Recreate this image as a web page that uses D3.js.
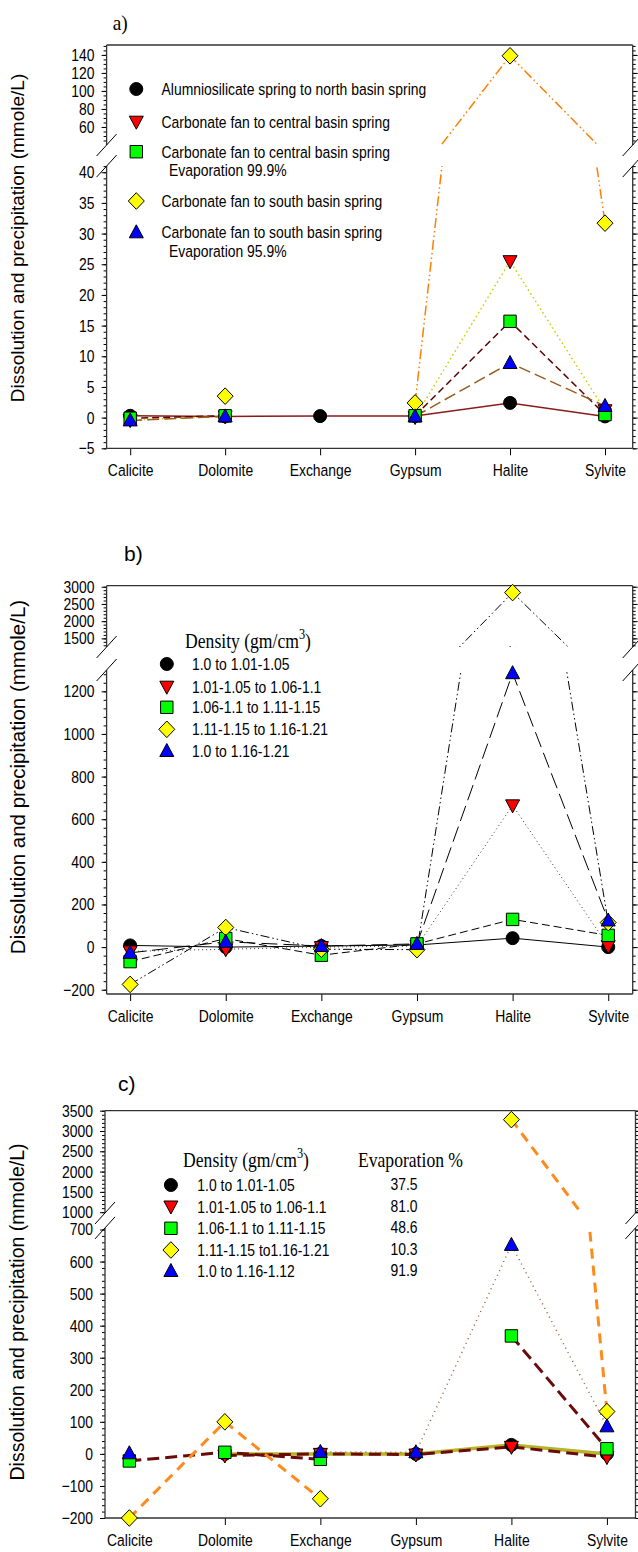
<!DOCTYPE html>
<html>
<head>
<meta charset="utf-8">
<script src="https://cdn.jsdelivr.net/npm/d3@7"></script>
<style>
  html, body { margin: 0; padding: 0; background: #fff; }
  svg { display: block; }
</style>
</head>
<body>
<svg id="chart" width="638" height="1552"></svg>
<script>
// ---- data ----
const categories = ["Calicite", "Dolomite", "Exchange", "Gypsum", "Halite", "Sylvite"];
const markerKinds = ["circle", "down", "square", "diamond", "up"];

// panel a
const aNames = [
  "Alumniosilicate spring to north basin spring",
  "Carbonate fan to central basin spring",
  "Carbonate fan to central basin spring",
  "Carbonate fan to south basin spring",
  "Carbonate fan to south basin spring"
];
const aSubNames = [null, null, "Evaporation 99.9%", null, "Evaporation 95.9%"];
const aCircle  = [0.3, 0.2, 0.25, 0.25, 2.4, 0.2];
const aDown    = [-0.4, 0.2, null, 0.1, 25.5, 1.2];
const aSquare  = [-0.1, 0.3, null, 0.3, 15.7, 0.5];
const aDiamond = [null, 3.5, null, 2.4, 139, 31.7];
const aUp      = [-0.45, 0.2, null, 0.2, 8.9, 1.9];
const aUpperTicks = [60, 80, 100, 120, 140];
const aLowerTicks = [-5, 0, 5, 10, 15, 20, 25, 30, 35, 40];

// panel b
const bNames = ["1.0 to 1.01-1.05", "1.01-1.05 to 1.06-1.1", "1.06-1.1 to 1.11-1.15",
                "1.11-1.15 to 1.16-1.21", "1.0 to 1.16-1.21"];
const bCircle  = [8, 0, 5, 10, 42, 0];
const bDown    = [-20, -10, 0, 5, 665, 5];
const bSquare  = [-68, 40, -38, 15, 130, 55];
const bDiamond = [-175, 92, -10, -12, 2830, 115];
const bUp      = [-27, 25, 5, 15, 1285, 125];
const bUpperTicks = [1500, 2000, 2500, 3000];
const bLowerTicks = [-200, 0, 200, 400, 600, 800, 1000, 1200];

// panel c
const cNames = ["1.0 to 1.01-1.05", "1.01-1.05 to 1.06-1.1", "1.06-1.1 to 1.11-1.15",
                "1.11-1.15 to1.16-1.21", "1.0 to 1.16-1.12"];
const cEvaporation = ["37.5", "81.0", "48.6", "10.3", "91.9"];
const cCircle  = [null, 0, 0, 0, 28, 0];
const cDown    = [null, -5, 0, -2, 22, -10];
const cSquare  = [-22, 5, -17, null, 368, 16];
const cDiamond = [-200, 100, -140, null, 3280, 132];
const cUp      = [2, null, 6, 5, 652, 86];
const cUpperTicks = [1000, 1500, 2000, 2500, 3000, 3500];
const cLowerTicks = [-200, -100, 0, 100, 200, 300, 400, 500, 600, 700];

// ---- fonts ----
const probe = document.createElement('canvas').getContext('2d');
function probeWidth(font) { probe.font = font; return probe.measureText('Calicite Dolomite Exchange').width; }
const narrowOK = Math.abs(probeWidth('16px "Liberation Sans Narrow", monospace') - probeWidth('16px monospace')) > 0.5;
const NARROW = narrowOK ? '"Liberation Sans Narrow", "Arial Narrow", sans-serif' : '"Liberation Sans", Arial, sans-serif';
const SX = narrowOK ? 1 : 0.82;
const SANS = '"Liberation Sans", Arial, sans-serif';
const SERIF = '"Liberation Serif", "Times New Roman", serif';
const fmt = d3.format('d');

const svg = d3.select('#chart');
const defs = svg.append('defs');

function narrowText(g, x, y, str, size, anchor) {
  return g.append('text')
    .attr('transform', `translate(${x},${y}) scale(${SX},1)`)
    .attr('font-family', NARROW)
    .attr('font-size', size)
    .attr('text-anchor', anchor || 'start')
    .attr('fill', '#000')
    .text(str);
}
function serifText(g, x, y, size) {
  return g.append('text')
    .attr('transform', `translate(${x},${y}) scale(0.88,1)`)
    .attr('font-family', SERIF)
    .attr('font-size', size)
    .attr('fill', '#000');
}

// ---- markers ----
const fills = { circle: '#000', down: '#ff0000', square: '#00ff00', diamond: '#ffff00', up: '#0000ff' };
const shapeTypes = {
  circle: { draw(c) { c.moveTo(6.5, 0); c.arc(0, 0, 6.5, 0, 2 * Math.PI); } },
  square: { draw(c) { c.rect(-6.2, -6.2, 12.4, 12.4); } },
  diamond: { draw(c) { c.moveTo(0, -8.3); c.lineTo(8, 0); c.lineTo(0, 8.3); c.lineTo(-8, 0); c.closePath(); } },
  up: { draw(c) { c.moveTo(0, -7.5); c.lineTo(7, 5.5); c.lineTo(-7, 5.5); c.closePath(); } },
  down: { draw(c) { c.moveTo(0, 7.5); c.lineTo(7, -5.5); c.lineTo(-7, -5.5); c.closePath(); } }
};
function marker(g, kind, cx, cy) {
  g.append('path')
    .attr('d', d3.symbol().type(shapeTypes[kind])())
    .attr('transform', `translate(${cx},${cy})`)
    .attr('fill', fills[kind])
    .attr('stroke', '#000')
    .attr('stroke-width', 1);
}

// ---- panel drawing ----
function drawPanel(p) {
  const g = svg.append('g');
  const x = d3.scalePoint().domain(categories).range([p.left, p.right]).padding(p.pad).align(p.align);
  const yUp = d3.scaleLinear().domain(p.upDomain).range([p.upBottom, p.top]);
  const yLo = d3.scaleLinear().domain(p.loDomain).range([p.bottom, p.loTop]);
  const yOf = v => (v > p.loDomain[1] ? yUp(v) : yLo(v));

  // clip regions for the two segments
  defs.append('clipPath').attr('id', p.id + 'up').append('rect')
    .attr('x', p.left).attr('y', p.top).attr('width', p.right - p.left).attr('height', p.upBottom - p.top);
  defs.append('clipPath').attr('id', p.id + 'lo').append('rect')
    .attr('x', p.left).attr('y', p.loTop).attr('width', p.right - p.left).attr('height', p.bottom - p.loTop);

  // axes (ticks only, frame drawn below)
  function yAxis(scale, major, minor) {
    const gl = g.append('g').attr('transform', `translate(${p.left},0)`)
      .call(d3.axisLeft(scale).tickValues(major).tickFormat(fmt).tickSize(5).tickPadding(7).tickSizeOuter(0));
    gl.select('.domain').remove();
    gl.selectAll('line').attr('stroke', '#000');
    gl.selectAll('text')
      .attr('font-family', NARROW).attr('font-size', 17).attr('fill', '#000')
      .attr('transform', `scale(${SX},1)`).attr('x', -12 / SX);
    const gm = g.append('g').attr('transform', `translate(${p.left},0)`)
      .call(d3.axisLeft(scale).tickValues(minor).tickSize(3).tickFormat(''));
    gm.select('.domain').remove();
    gm.selectAll('line').attr('stroke', '#000');
    const gr = g.append('g').attr('transform', `translate(${p.right},0)`)
      .call(d3.axisRight(scale).tickValues(major).tickSize(5).tickFormat(''));
    gr.select('.domain').remove();
    gr.selectAll('line').attr('stroke', '#000');
    const grm = g.append('g').attr('transform', `translate(${p.right},0)`)
      .call(d3.axisRight(scale).tickValues(minor).tickSize(3).tickFormat(''));
    grm.select('.domain').remove();
    grm.selectAll('line').attr('stroke', '#000');
  }
  yAxis(yUp, p.upTicks, d3.range(p.upMinor[0], p.upMinor[1] + 1e-9, p.upMinor[2]));
  yAxis(yLo, p.loTicks, d3.range(p.loMinor[0], p.loMinor[1] + 1e-9, p.loMinor[2]));

  const gx = g.append('g').attr('transform', `translate(0,${p.bottom})`)
    .call(d3.axisBottom(x).tickSize(7).tickPadding(9).tickSizeOuter(0));
  gx.select('.domain').remove();
  gx.selectAll('line').attr('stroke', '#000');
  gx.selectAll('text')
    .attr('font-family', NARROW).attr('font-size', 17).attr('fill', '#000')
    .attr('transform', `scale(${SX},1)`);

  // frame with axis breaks
  const frame = [
    [p.left, p.top, p.right, p.top],
    [p.left, p.bottom, p.right, p.bottom],
    [p.left, p.top, p.left, p.upBottom],
    [p.left, p.loTop, p.left, p.bottom],
    [p.right, p.top, p.right, p.upBottom],
    [p.right, p.loTop, p.right, p.bottom]
  ];
  g.selectAll(null).data(frame).join('line')
    .attr('x1', d => d[0]).attr('y1', d => d[1]).attr('x2', d => d[2]).attr('y2', d => d[3])
    .attr('stroke', '#333').attr('stroke-width', 1.3);
  const slashes = [];
  [p.left, p.right].forEach(ax => [p.upBottom, p.loTop].forEach(yy => slashes.push([ax, yy])));
  g.selectAll(null).data(slashes).join('line')
    .attr('x1', d => d[0] - 10).attr('y1', d => d[1] + 11)
    .attr('x2', d => d[0] + 10).attr('y2', d => d[1] - 11)
    .attr('stroke', '#000').attr('stroke-width', 1);

  // series lines, drawn in each segment and clipped
  p.series.forEach(s => {
    const pts = categories.map((c, i) => ({ c, v: s.values[i] }));
    [['up', yUp], ['lo', yLo]].forEach(([seg, sc]) => {
      const line = d3.line().defined(d => d.v != null).x(d => x(d.c)).y(d => sc(d.v));
      g.append('path')
        .attr('d', line(pts))
        .attr('clip-path', `url(#${p.id}${seg})`)
        .attr('fill', 'none')
        .attr('stroke', s.color)
        .attr('stroke-width', s.width)
        .attr('stroke-dasharray', s.dash || null);
    });
  });
  // markers
  p.series.forEach((s, k) => {
    categories.forEach((c, i) => {
      const v = s.values[i];
      if (v != null) marker(g, markerKinds[k], x(c), yOf(v));
    });
  });

  // y title
  g.append('text')
    .attr('transform', `translate(${p.titleX},${p.titleY}) rotate(-90)`)
    .attr('text-anchor', 'middle')
    .attr('font-family', SANS)
    .attr('font-size', p.titleSize)
    .attr('fill', '#000')
    .text('Dissolution and precipitation (mmole/L)');
  return g;
}

function densityTitle(g, x, y) {
  const t = serifText(g, x, y, 20);
  t.append('tspan').text('Density (gm/cm');
  t.append('tspan').attr('dy', -9).attr('font-size', 14).text('3');
  t.append('tspan').attr('dy', 9).text(')');
}

// ---- panel a ----
const ga = drawPanel({
  id: 'pa', left: 106.6, right: 632.7, top: 45, bottom: 448.3,
  pad: 0.27, align: 0.46,
  upDomain: [40, 151], upBottom: 145, loDomain: [-5, 41], loTop: 166.1,
  upTicks: aUpperTicks, loTicks: aLowerTicks,
  upMinor: [45, 150, 5], loMinor: [-5, 41, 1],
  titleX: 24, titleY: 238, titleSize: 19,
  series: [
    { values: aCircle, color: '#8b1a1a', width: 1.5 },
    { values: aDown, color: '#cccc00', width: 1.5, dash: '1.5,3' },
    { values: aSquare, color: '#5c0000', width: 1.5, dash: '7,4' },
    { values: aDiamond, color: '#ff8000', width: 1.5, dash: '10,3,1.5,3,1.5,3' },
    { values: aUp, color: '#9a5b1e', width: 1.5, dash: '12,5' }
  ]
});
serifText(ga, 112.7, 30, 22).text('a)');
const aRows = [89, 121.7, 151.7, 201, 232.3];
aRows.forEach((ry, i) => {
  marker(ga, markerKinds[i], 136.3, ry);
  narrowText(ga, 161.5, ry + 6, aNames[i], 17);
  if (aSubNames[i]) narrowText(ga, 168.9, ry + 24.5, aSubNames[i], 17);
});

// ---- panel b ----
const gb = drawPanel({
  id: 'pb', left: 106.6, right: 632.7, top: 585.7, bottom: 994,
  pad: 0.251, align: 0.49,
  upDomain: [1250, 3030], upBottom: 647, loDomain: [-220, 1300], loTop: 670,
  upTicks: bUpperTicks, loTicks: bLowerTicks,
  upMinor: [1300, 3000, 100], loMinor: [-200, 1280, 40],
  titleX: 25, titleY: 777, titleSize: 20.5,
  series: [
    { values: bCircle, color: '#000', width: 1 },
    { values: bDown, color: '#333', width: 1, dash: '1,3' },
    { values: bSquare, color: '#000', width: 1, dash: '8,4' },
    { values: bDiamond, color: '#000', width: 1, dash: '9,3,1.5,3,1.5,3' },
    { values: bUp, color: '#000', width: 1, dash: '16,6' }
  ]
});
gb.append('text').attr('x', 124).attr('y', 561)
  .attr('font-family', SANS).attr('font-size', 21).attr('fill', '#000').text('b)');
densityTitle(gb, 185.1, 648);
const bRows = [664, 686.7, 707.3, 729.3, 751];
bRows.forEach((ry, i) => {
  marker(gb, markerKinds[i], 166.8, ry);
  narrowText(gb, 192, ry + 6, bNames[i], 17);
});

// ---- panel c ----
const gc = drawPanel({
  id: 'pc', left: 105, right: 635.5, top: 1110.7, bottom: 1518,
  pad: 0.277, align: 0.46,
  upDomain: [980, 3500], upBottom: 1213, loDomain: [-200, 705], loTop: 1227.9,
  upTicks: cUpperTicks, loTicks: cLowerTicks,
  upMinor: [1000, 3500, 100], loMinor: [-200, 700, 20],
  titleX: 24, titleY: 1312, titleSize: 19.5,
  series: [
    { values: cCircle, color: '#b8b42a', width: 3.5 },
    { values: cDown, color: '#6b0a0a', width: 3, dash: '12,6' },
    { values: cSquare, color: '#6b0a0a', width: 3, dash: '12,6' },
    { values: cDiamond, color: '#ff8a1c', width: 3, dash: '10,7' },
    { values: cUp, color: '#a0603a', width: 1.5, dash: '1,4' }
  ]
});
gc.append('text').attr('x', 118).attr('y', 1091)
  .attr('font-family', SANS).attr('font-size', 21).attr('fill', '#000').text('c)');
densityTitle(gc, 183.1, 1167);
serifText(gc, 358, 1167, 20).text('Evaporation %');
const cRows = [1185, 1206.5, 1228.3, 1250, 1271];
cRows.forEach((ry, i) => {
  marker(gc, markerKinds[i], 170.9, ry);
  narrowText(gc, 197.3, ry + 6, cNames[i], 17);
  narrowText(gc, 404, ry + 5, cEvaporation[i], 17, 'middle');
});
</script>
</body>
</html>
